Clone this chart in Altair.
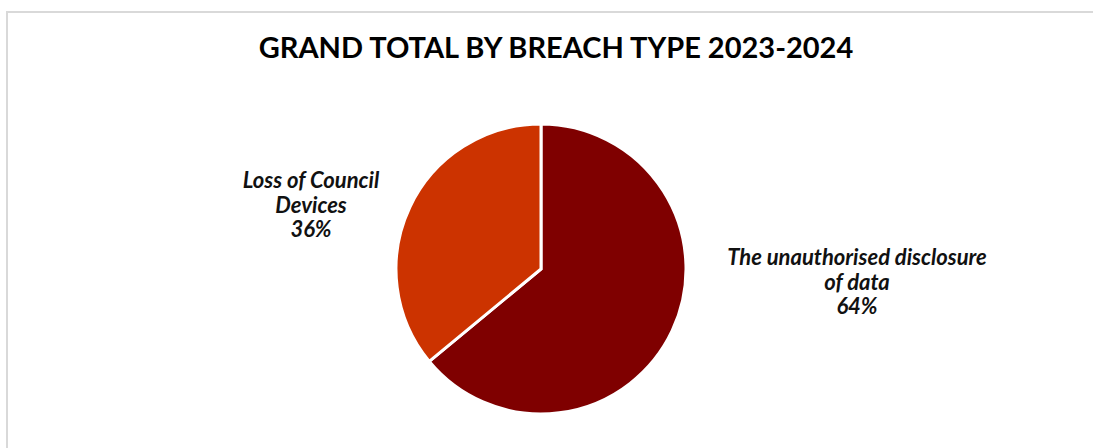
import altair as alt
import pandas as pd

categories = ["The unauthorised disclosure of data", "Loss of Council Devices"]
shares = [64, 36]
colors = ["#7F0000", "#CC3300"]
label_lines = [["The unauthorised disclosure", "of data", "64%"],
               ["Loss of Council", "Devices", "36%"]]
title_text = "GRAND TOTAL BY BREACH TYPE 2023-2024"

W, H = 1093, 448
CX, CY, R = 541, 269, 145

df = pd.DataFrame({"category": categories, "share": shares,
                   "order": list(range(len(categories)))})

pie = alt.Chart(df).mark_arc(radius=R, stroke="white", strokeWidth=3).encode(
    theta=alt.Theta("share:Q", stack=True),
    order=alt.Order("order:Q"),
    color=alt.Color("category:N", scale=alt.Scale(domain=categories, range=colors), legend=None),
    x=alt.value(CX), y=alt.value(CY),
)

label_pos = {categories[0]: (857, 258), categories[1]: (311, 181)}
layers = []
frame = alt.Chart(alt.Data(values=[{"a": 1}])).mark_rect(
    fill="white", stroke="#d9d9d9", strokeWidth=2
).encode(x=alt.value(7), y=alt.value(12), x2=alt.value(W + 10), y2=alt.value(H + 10))
layers.append(frame)
layers.append(pie)

for cat, lines in zip(categories, label_lines):
    lx, ly = label_pos[cat]
    ldf = pd.DataFrame({"line": lines, "idx": list(range(len(lines)))})
    t = alt.Chart(ldf).mark_text(
        font="Lato", fontSize=22, fontWeight="bold", fontStyle="italic",
        color="#111111", align="center", baseline="middle"
    ).encode(
        text="line:N",
        x=alt.value(lx),
        y=alt.Y("idx:Q", scale=alt.Scale(domain=[0, 1], range=[ly, ly + 24.5]), axis=None),
    )
    layers.append(t)

title = alt.Chart(alt.Data(values=[{"t": title_text}])).mark_text(
    font="Lato", fontSize=29, fontWeight="bold", color="#000000",
    align="center", baseline="middle"
).encode(text="t:N", x=alt.value(556), y=alt.value(49))
layers.append(title)

chart = alt.layer(*layers).resolve_scale(y="independent").properties(
    width=W, height=H, padding=0,
    autosize=alt.AutoSizeParams(type="none"),
).configure_view(stroke=None)

chart.save("out.html", embed_options={"renderer": "svg", "actions": False})
